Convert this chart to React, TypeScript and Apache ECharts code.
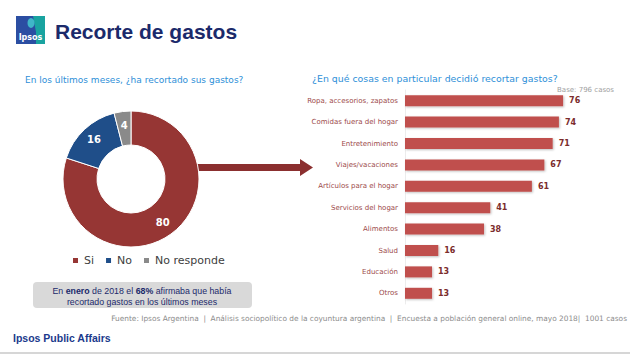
import React, { useEffect, useRef } from "react";
import * as echarts from "echarts";

const pieCategories = ["Si", "No", "No responde"];
const pieValues = [80, 16, 4];
const pieColors = ["#963634", "#1f4e89", "#8a8a8a"];

const barCategories = [
  "Ropa, accesorios, zapatos",
  "Comidas fuera del hogar",
  "Entretenimiento",
  "Viajes/vacaciones",
  "Artículos para el hogar",
  "Servicios del hogar",
  "Alimentos",
  "Salud",
  "Educación",
  "Otros",
];
const barValues = [76, 74, 71, 67, 61, 41, 38, 16, 13, 13];

const FONT = "'DejaVu Sans', 'Liberation Sans', sans-serif";
const NARROW = "'Liberation Sans', Arial, sans-serif";

export default function App() {
  const ref = useRef<HTMLDivElement>(null);
  useEffect(() => {
    if (!ref.current) return;
    const chart = echarts.init(ref.current, null, { renderer: "svg" });
    const option: any = {
      animation: false,
      backgroundColor: "#ffffff",
      textStyle: { fontFamily: FONT },
      legend: {
        data: pieCategories,
        left: 66,
        top: 250,
        icon: "rect",
        itemWidth: 7,
        itemHeight: 7,
        itemGap: 10,
        textStyle: { color: "#404040", fontSize: 11, fontFamily: FONT },
      },
      grid: { left: 405, top: 90, width: 208, height: 214, containLabel: false },
      xAxis: {
        type: "value",
        min: 0,
        max: 100,
        show: false,
      },
      yAxis: {
        type: "category",
        data: barCategories,
        inverse: true,
        axisTick: { show: false },
        axisLine: { show: true, lineStyle: { color: "#ececec", width: 1 } },
        axisLabel: { color: "#9c4a4a", fontSize: 7, margin: 7, fontFamily: FONT },
      },
      series: [
        {
          type: "pie",
          center: [131, 179],
          radius: [34, 68],
          startAngle: 90,
          clockwise: true,
          data: pieCategories.map((n, i) => ({
            name: n,
            value: pieValues[i],
            itemStyle: { color: pieColors[i] },
          })),
          itemStyle: { borderColor: "#ffffff", borderWidth: 1 },
          label: {
            show: true,
            position: "inside",
            formatter: "{c}",
            color: "#ffffff",
            fontWeight: "bold",
            fontSize: 10,
            fontFamily: FONT,
          },
          labelLine: { show: false },
          emphasis: { disabled: true },
        },
        {
          type: "bar",
          data: barValues,
          barWidth: 11,
          itemStyle: {
            color: "#c0504d",
            shadowColor: "rgba(0,0,0,0.25)",
            shadowBlur: 2,
            shadowOffsetX: 1,
            shadowOffsetY: 1,
          },
          label: {
            show: true,
            position: "right",
            distance: 6,
            color: "#7b2c2c",
            fontWeight: "bold",
            fontSize: 8,
            fontFamily: FONT,
          },
        },
      ],
      graphic: [
        // logo
        { type: "rect", shape: { x: 16, y: 16, width: 29, height: 28 }, style: { fill: "#2b4ea2" } },
        { type: "polygon", shape: { points: [[33, 16], [45, 16], [45, 44], [36, 44], [36, 32]] }, style: { fill: "#19a3a0" } },
        { type: "ellipse", shape: { cx: 31, cy: 23, rx: 3.5, ry: 5 }, style: { fill: "#3fb6c8" } },
        { type: "text", style: { x: 30.5, y: 41, text: "Ipsos", fill: "#ffffff", font: "bold 8px " + FONT, textAlign: "center", textVerticalAlign: "bottom" } },
        // title
        { type: "text", style: { x: 55, y: 31, text: "Recorte de gastos", fill: "#1b2a6b", font: "bold 21px " + NARROW, textVerticalAlign: "middle" } },
        // left subtitle
        { type: "text", style: { x: 25, y: 80, text: "En los últimos meses, ¿ha recortado sus gastos?", fill: "#2e8fd8", font: "9px " + FONT, textVerticalAlign: "middle" } },
        // right subtitle
        { type: "text", style: { x: 312, y: 78, text: "¿En qué cosas en particular decidió recortar gastos?", fill: "#2e8fd8", font: "9.4px " + FONT, textVerticalAlign: "middle" } },
        { type: "text", style: { x: 614, y: 90, text: "Base: 796 casos", fill: "#a0a0a0", font: "7px " + FONT, textAlign: "right", textVerticalAlign: "middle" } },
        // arrow
        { type: "polygon", shape: { points: [[197, 164], [300, 164], [300, 159], [313, 167.5], [300, 176], [300, 171], [197, 171]] }, style: { fill: "#8b2f2f" } },
        // box
        { type: "rect", shape: { x: 33, y: 282, width: 219, height: 26, r: 4 }, style: { fill: "#d9d9d9" } },
        {
          type: "text",
          style: {
            x: 142, y: 296.5,
            text: "En {b|enero} de 2018 el {b|68%} afirmaba que había\nrecortado gastos en los últimos meses",
            fill: "#1b2a6b",
            font: "8.8px " + NARROW,
            lineHeight: 11.5,
            textAlign: "center",
            textVerticalAlign: "middle",
            rich: { b: { fontWeight: "bold", fill: "#1b2a6b", fontSize: 8.8, fontFamily: NARROW } },
          },
        },
        // footer
        { type: "text", style: { x: 627, y: 318, text: "Fuente: Ipsos Argentina  |  Análisis sociopolítico de la coyuntura argentina  |  Encuesta a población general online, mayo 2018|  1001 casos", fill: "#8c8c8c", font: "7.4px " + FONT, textAlign: "right", textVerticalAlign: "middle" } },
        { type: "text", style: { x: 13, y: 338, text: "Ipsos Public Affairs", fill: "#1b3a8c", font: "bold 10.5px " + NARROW, textVerticalAlign: "middle" } },
        { type: "line", shape: { x1: 0, y1: 353, x2: 630, y2: 353 }, style: { stroke: "#c8c8c8", lineWidth: 1.5 } },
      ],
    };
    chart.setOption(option);
    return () => chart.dispose();
  }, []);
  return (
    <div
      ref={ref}
      style={{ position: "fixed", left: 0, top: 0, width: 630, height: 355 }}
    />
  );
}
